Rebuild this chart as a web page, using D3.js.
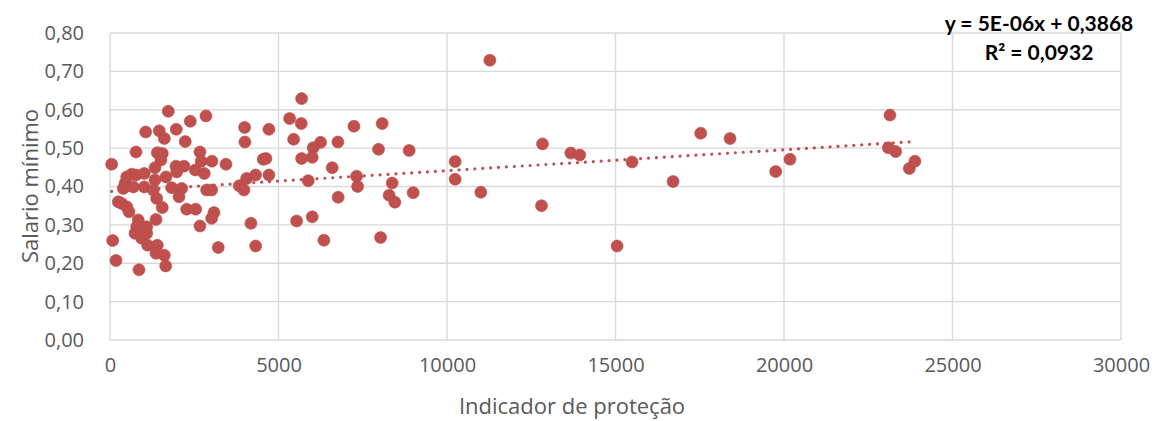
<!DOCTYPE html>
<html><head><meta charset="utf-8">
<script src="https://cdn.jsdelivr.net/npm/d3@7"></script>
<style>body{margin:0;background:#fff}svg{display:block}</style>
</head><body><svg id="c" width="1152" height="421"></svg>
<script>
const indicador = [50,80,178,246,347,495,564,395,445,495,644,691,771,1017,1017,771,1059,1462,1611,1729,1966,2382,2847,2233,1403,1551,1513,2669,2708,3025,3441,1335,1958,2195,2530,2797,1978,1661,1335,1284,1830,2127,2868,3016,1385,2047,1551,2275,2542,3085,3016,1364,2669,839,792,1089,742,1089,940,1118,1403,1364,1611,3212,1652,860,
3995,4004,4716,4547,4627,5330,5686,5674,5449,6249,6030,6762,5686,6000,6594,4054,4321,4716,3835,3974,5882,6771,4182,5537,6000,4321,6347,7237,8077,7969,8877,7317,7347,8373,8284,8453,8996,8029,10242,10242,11004,11271,12834,12804,13673,13940,15047,15492,16708,17529,18398,19754,20178,23144,23096,23313,23719,23885];
const salario = [0.458,0.259,0.207,0.360,0.356,0.347,0.334,0.395,0.408,0.425,0.432,0.399,0.430,0.434,0.399,0.490,0.542,0.545,0.525,0.596,0.549,0.570,0.584,0.517,0.488,0.486,0.469,0.490,0.466,0.466,0.458,0.449,0.453,0.453,0.443,0.434,0.438,0.425,0.417,0.391,0.397,0.395,0.391,0.391,0.369,0.373,0.345,0.341,0.341,0.332,0.317,0.314,0.297,0.313,0.295,0.295,0.278,0.278,0.265,0.247,0.247,0.226,0.221,0.241,0.193,0.183,
0.554,0.516,0.549,0.471,0.473,0.577,0.629,0.564,0.523,0.515,0.501,0.516,0.473,0.476,0.449,0.421,0.430,0.430,0.402,0.391,0.415,0.372,0.304,0.310,0.321,0.245,0.260,0.557,0.564,0.497,0.494,0.427,0.400,0.409,0.377,0.359,0.384,0.267,0.465,0.419,0.385,0.729,0.511,0.350,0.487,0.482,0.245,0.464,0.413,0.539,0.525,0.439,0.471,0.586,0.501,0.491,0.447,0.466];
const xTicks = [0,5000,10000,15000,20000,25000,30000];
const yTicks = [0,0.1,0.2,0.3,0.4,0.5,0.6,0.7,0.8];
const trendIntercept = 0.3868, trendSlope = 5.45e-6;
const eqLabel = "y = 5E-06x + 0,3868";
const r2Label = "R² = 0,0932";
const xTitle = "Indicador de proteção", yTitle = "Salario mínimo";

const svg = d3.select("#c");
const x = d3.scaleLinear().domain([0,30000]).range([110,1121]);
const y = d3.scaleLinear().domain([0,0.8]).range([340,33]);
const red = "#C0504D", grid = "#D9D9D9", txt = "#595959";
const font = "'Open Sans', sans-serif";

// gridlines
svg.append("g").selectAll("line").data(yTicks).join("line")
  .attr("x1",x(0)).attr("x2",x(30000)).attr("y1",d=>y(d)).attr("y2",d=>y(d))
  .attr("stroke",grid).attr("stroke-width",1.4);
svg.append("g").selectAll("line").data(xTicks).join("line")
  .attr("y1",y(0)).attr("y2",y(0.8)).attr("x1",d=>x(d)).attr("x2",d=>x(d))
  .attr("stroke",grid).attr("stroke-width",1.4);

// axes labels
const fmt = d => d3.format(".2f")(d).replace(".",",");
const yAxis = svg.append("g").attr("transform",`translate(${x(0)-26},0)`)
  .call(d3.axisLeft(y).tickValues(yTicks).tickFormat(fmt).tickSize(0));
yAxis.select(".domain").remove();
yAxis.selectAll("text").attr("font-family",font).attr("font-size",20).attr("fill",txt).attr("x",0);
const xAxis = svg.append("g").attr("transform",`translate(0,${y(0)+18})`)
  .call(d3.axisBottom(x).tickValues(xTicks).tickFormat(d3.format("d")).tickSize(0));
xAxis.select(".domain").remove();
xAxis.selectAll("text").attr("font-family",font).attr("font-size",20).attr("fill",txt).attr("y",0);

// points
svg.append("g").selectAll("circle").data(indicador.map((v,i)=>[v,salario[i]])).join("circle")
  .attr("cx",d=>x(d[0])).attr("cy",d=>y(d[1])).attr("r",6)
  .attr("fill",red).attr("stroke","#B94A47").attr("stroke-width",0.6);

// trend line
const xmin = d3.min(indicador), xmax = d3.max(indicador);
svg.append("line")
  .attr("x1",x(xmin)).attr("y1",y(trendIntercept+trendSlope*xmin))
  .attr("x2",x(xmax)).attr("y2",y(trendIntercept+trendSlope*xmax))
  .attr("stroke",red).attr("stroke-width",3.2).attr("stroke-linecap","round")
  .attr("stroke-dasharray","0.01 7.9");

// equation
svg.append("text").attr("x",1039).attr("y",31).attr("text-anchor","middle")
  .attr("font-family","Lato, sans-serif").attr("font-weight","bold").attr("font-size",21)
  .attr("fill","#000").text(eqLabel);
svg.append("text").attr("x",1039).attr("y",60).attr("text-anchor","middle")
  .attr("font-family","Lato, sans-serif").attr("font-weight","bold").attr("font-size",21)
  .attr("fill","#000").text(r2Label);

// titles
svg.append("text").attr("x",572).attr("y",414).attr("text-anchor","middle")
  .attr("font-family",font).attr("font-size",22).attr("fill",txt).text(xTitle);
svg.append("text").attr("transform","translate(38,186) rotate(-90)").attr("text-anchor","middle")
  .attr("font-family",font).attr("font-size",22).attr("fill",txt).text(yTitle);
</script></body></html>
